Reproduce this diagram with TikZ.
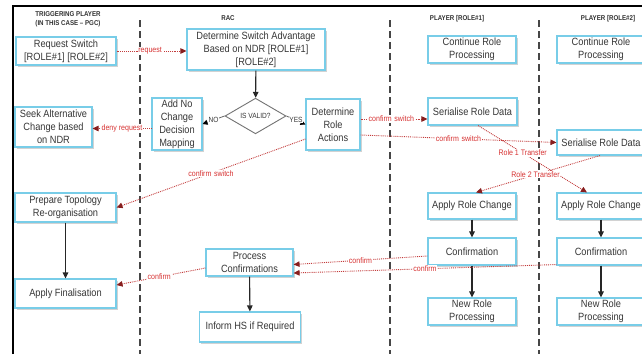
\documentclass[tikz,border=0pt]{standalone}
\usepackage{fontspec}
\setmainfont[FakeStretch=0.88]{Liberation Sans}
\usetikzlibrary{shapes.geometric,shadows,arrows.meta}
\definecolor{boxblue}{RGB}{120,205,232}
\definecolor{txtgray}{RGB}{55,55,55}
\definecolor{redline}{RGB}{195,60,60}
\definecolor{redhead}{RGB}{135,30,30}
\definecolor{redtxt}{RGB}{215,50,50}
\definecolor{lanegray}{RGB}{70,70,70}
\tikzset{
  box/.style={draw=boxblue, line width=1.1pt, fill=white, text=txtgray,
    font=\fontsize{10.5}{13}\selectfont, align=center, inner sep=0pt,
    drop shadow={shadow xshift=1.5pt, shadow yshift=-1.5pt, opacity=0.35}},
  bx/.style 2 args={box, minimum width=#1, minimum height=#2},
  redarrow/.style={draw=redline, densely dotted, line width=0.9pt,
    -{Triangle[color=redhead, length=6pt, width=5.5pt]}},
  rlabel/.style={fill=white, text=redtxt, font=\fontsize{8}{9}\selectfont, inner sep=0.8pt},
  blackarrow/.style={draw=black!85, line width=1.1pt, -{Triangle[length=6pt, width=5.5pt]}},
  grayarrow/.style={draw=black!60, line width=0.8pt, -{Triangle[color=black, length=5pt, width=5pt]}},
  glabel/.style={fill=white, text=txtgray, font=\fontsize{7.5}{8}\selectfont, inner sep=0.5pt},
  hdr/.style={font=\bfseries\fontsize{7}{9}\selectfont, text=black!80, align=center},
  lane/.style={draw=lanegray, line width=1.2pt, dash pattern=on 7pt off 4pt},
}
\begin{document}
\begin{tikzpicture}[x=1pt, y=-1pt]
\useasboundingbox (0,0) rectangle (642,354);
\clip (0,0) rectangle (642,354);
\fill[white] (0,0) rectangle (642,354);
% frame
\draw[black, line width=1.5pt] (13,354) -- (13,6) -- (650,6);
% lanes
\draw[lane] (140,20) -- (140,354);
\draw[lane] (390,20) -- (390,354);
\draw[lane] (539,20) -- (539,354);
% headers
\node[hdr] (h1) at (68,19) {TRIGGERING PLAYER\\(IN THIS CASE -- PGC)};
\node[hdr] (h2) at (228,18) {RAC};
\node[hdr] (h3) at (457,19) {PLAYER [ROLE\#1]};
\node[hdr] (h4) at (608,19) {PLAYER [ROLE\#2]};
% boxes
\node[bx={100pt}{28pt}] (req) at (66,51) {Request Switch\\{}[ROLE\#1] [ROLE\#2]};
\node[bx={138pt}{41pt}] (det) at (256,49.5) {Determine Switch Advantage\\Based on NDR [ROLE\#1]\\{}[ROLE\#2]};
\node[diamond, draw=black!55, line width=0.9pt, fill=white, minimum width=61pt, minimum height=34pt, inner sep=0pt, text=txtgray, font=\fontsize{7.5}{8}\selectfont] (valid) at (255.5,116) {IS VALID?};
\node[bx={50pt}{52pt}] (addno) at (177,124) {Add No\\Change\\Decision\\Mapping};
\node[bx={54pt}{51pt}] (dra) at (333,124.5) {Determine\\Role\\Actions};
\node[bx={77pt}{40pt}] (seek) at (53.5,127) {Seek Alternative\\Change based\\on NDR};
\node[bx={88pt}{27pt}] (cont1) at (472,49.5) {Continue Role\\Processing};
\node[bx={88pt}{27pt}] (cont2) at (601,49.5) {Continue Role\\Processing};
\node[bx={89pt}{27pt}] (ser1) at (472.5,111.5) {Serialise Role Data};
\node[bx={88pt}{25pt}] (ser2) at (601,142.5) {Serialise Role Data};
\node[bx={101pt}{29pt}] (prep) at (65.5,207.5) {Prepare Topology\\Re-organisation};
\node[bx={101pt}{29pt}] (fin) at (65.5,293.5) {Apply Finalisation};
\node[bx={88pt}{26pt}] (arc1) at (472,206) {Apply Role Change};
\node[bx={88pt}{26pt}] (arc2) at (601,206) {Apply Role Change};
\node[bx={88pt}{27pt}] (conf1) at (472,251.5) {Confirmation};
\node[bx={88pt}{27pt}] (conf2) at (601,251.5) {Confirmation};
\node[bx={88pt}{27pt}] (new1) at (472,311.5) {New Role\\Processing};
\node[bx={88pt}{27pt}] (new2) at (601,311.5) {New Role\\Processing};
\node[bx={87pt}{27pt}] (proc) at (249.5,262.5) {Process\\Confirmations};
\node[bx={101pt}{30pt}] (inform) at (250,327) {Inform HS if Required};
% black flow
\draw[blackarrow] (det) -- (valid);
\draw[blackarrow] (prep) -- (fin);
\draw[blackarrow] (proc) -- (inform);
\draw[blackarrow] (arc1) -- (conf1);
\draw[blackarrow] (conf1) -- (new1);
\draw[blackarrow] (arc2) -- (conf2);
\draw[blackarrow] (conf2) -- (new2);
\draw[grayarrow] (valid.west) -- node[glabel] {NO} (addno.east);
\draw[grayarrow] (valid.east) -- node[glabel] {YES} (dra.west);
% red messages
\draw[redarrow] (req.east) -- node[rlabel, pos=0.48] {request} (req.east -| det.west);
\draw[redarrow] ([yshift=-4.5pt]addno.west) -- node[rlabel] {deny request} ([yshift=-4.5pt]addno.west -| seek.east);
\draw[redarrow] ([yshift=5.5pt]dra.east) -- node[rlabel, pos=0.46] {confirm\,\,switch} ([yshift=5.5pt]dra.east -| ser1.west);
\draw[redarrow] ([yshift=-10.5pt]dra.east) -- node[rlabel] {confirm\,\,switch} (ser2.west);
\draw[redarrow] ([yshift=-14.5pt]dra.west) -- node[rlabel] {confirm\,\,switch} (prep.east);
\draw[redarrow] ([xshift=5.5pt]ser1.south) -- node[rlabel, pos=0.41] {Role 1 Transfer} ([xshift=-14pt]arc2.north);
\draw[redarrow] ([xshift=-1pt]ser2.south) -- node[rlabel, pos=0.52] {Role 2 Transfer} ([xshift=4pt]arc1.north);
\draw[redarrow] ([yshift=-4.5pt]conf1.west) -- node[rlabel] {confirm} ([yshift=-2pt]proc.east);
\draw[redarrow] ([yshift=1pt]conf2.south west) -- node[rlabel] {confirm} ([yshift=-10.5pt]proc.east);
\draw[redarrow] ([yshift=-5.5pt]proc.west) -- node[rlabel, pos=0.52] {confirm} ([yshift=8.5pt]fin.east);
\end{tikzpicture}
\end{document}
